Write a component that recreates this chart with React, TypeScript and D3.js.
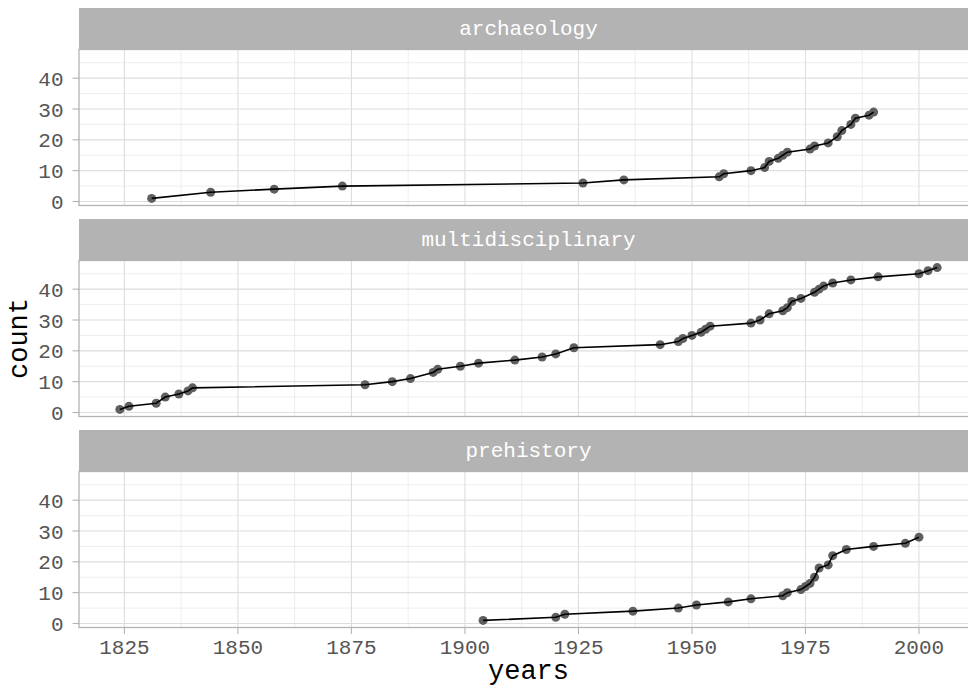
import React from 'react';
import * as d3 from 'd3';

// facet names, in the order they are drawn
const facets = ['archaeology', 'multidisciplinary', 'prehistory'];

// years and cumulative counts
const archYears = [1831, 1844, 1858, 1873, 1926, 1935, 1956, 1957, 1963, 1966, 1967, 1969, 1970, 1971, 1976, 1977, 1980, 1982, 1983, 1985, 1986, 1989, 1990];
const archCounts = [1, 3, 4, 5, 6, 7, 8, 9, 10, 11, 13, 14, 15, 16, 17, 18, 19, 21, 23, 25, 27, 28, 29];

const multiYears = [1824, 1826, 1832, 1834, 1837, 1839, 1840, 1878, 1884, 1888, 1893, 1894, 1899, 1903, 1911, 1917, 1920, 1924, 1943, 1947, 1948, 1950, 1952, 1953, 1954, 1963, 1965, 1967, 1970, 1971, 1972, 1974, 1977, 1978, 1979, 1981, 1985, 1991, 2000, 2002, 2004];
const multiCounts = [1, 2, 3, 5, 6, 7, 8, 9, 10, 11, 13, 14, 15, 16, 17, 18, 19, 21, 22, 23, 24, 25, 26, 27, 28, 29, 30, 32, 33, 34, 36, 37, 39, 40, 41, 42, 43, 44, 45, 46, 47];

const preYears = [1904, 1920, 1922, 1937, 1947, 1951, 1958, 1963, 1970, 1971, 1974, 1975, 1976, 1977, 1978, 1980, 1981, 1984, 1990, 1997, 2000];
const preCounts = [1, 2, 3, 4, 5, 6, 7, 8, 9, 10, 11, 12, 13, 15, 18, 19, 22, 24, 25, 26, 28];

const xTicks = [1825, 1850, 1875, 1900, 1925, 1950, 1975, 2000];
const xMinor = [1837.5, 1862.5, 1887.5, 1912.5, 1937.5, 1962.5, 1987.5, 2012.5];
const yTicks = [0, 10, 20, 30, 40];
const yMinor = [5, 15, 25, 35, 45];

const W = 968;
const H = 689;
const left = 79;
const right = 978;
const top = 8;
const stripH = 41.5;
const panelH = 156;
const step = 211;

const FONT = '"Liberation Mono", "DejaVu Sans Mono", monospace';

type Pt = { year: number; count: number };

const App: React.FC = () => {
  const series: Pt[][] = [
    archYears.map((y, i) => ({ year: y, count: archCounts[i] })),
    multiYears.map((y, i) => ({ year: y, count: multiCounts[i] })),
    preYears.map((y, i) => ({ year: y, count: preCounts[i] })),
  ];

  const x = d3.scaleLinear().domain([1815, 2013]).range([left, right]);

  return (
    <svg width={W} height={H} style={{ position: 'absolute', left: 0, top: 0, background: '#fff' }}>
      {facets.map((name, fi) => {
        const stripTop = top + fi * step;
        const pTop = stripTop + stripH;
        const pBot = pTop + panelH;
        const y = d3.scaleLinear().domain([-1.3, 49.3]).range([pBot, pTop]);
        const line = d3
          .line<Pt>()
          .x((d) => x(d.year))
          .y((d) => y(d.count));
        const data = series[fi];
        const isLast = fi === facets.length - 1;
        return (
          <g key={name}>
            {/* strip */}
            <rect x={left} y={stripTop} width={right - left} height={stripH} fill="#B3B3B3" />
            <text
              x={(left + right) / 2}
              y={stripTop + 26.7}
              textAnchor="middle"
              fill="#ffffff"
              fontFamily={FONT}
              fontSize={21}
            >
              {name}
            </text>

            {/* grid */}
            {yMinor.map((v) => (
              <line key={'ym' + v} x1={left} x2={right} y1={y(v)} y2={y(v)} stroke="#E3E3E3" strokeWidth={0.6} />
            ))}
            {xMinor.map((v) => (
              <line key={'xm' + v} x1={x(v)} x2={x(v)} y1={pTop} y2={pBot} stroke="#E3E3E3" strokeWidth={0.6} />
            ))}
            {yTicks.map((v) => (
              <line key={'yM' + v} x1={left} x2={right} y1={y(v)} y2={y(v)} stroke="#DEDEDE" strokeWidth={1.1} />
            ))}
            {xTicks.map((v) => (
              <line key={'xM' + v} x1={x(v)} x2={x(v)} y1={pTop} y2={pBot} stroke="#DEDEDE" strokeWidth={1.1} />
            ))}

            {/* points then line on top */}
            {data.map((d, i) => (
              <circle key={i} cx={x(d.year)} cy={y(d.count)} r={4.5} fill="#5f5f5f" />
            ))}
            <path d={line(data) || ''} fill="none" stroke="#000" strokeWidth={1.6} />

            {/* panel border */}
            <rect x={left} y={pTop} width={right - left} height={panelH} fill="none" stroke="#B3B3B3" strokeWidth={1.3} />

            {/* y axis */}
            {yTicks.map((v) => (
              <g key={'yt' + v}>
                <line x1={left - 6.5} x2={left} y1={y(v)} y2={y(v)} stroke="#B3B3B3" strokeWidth={1.1} />
                <text
                  x={left - 15.5}
                  y={y(v)}
                  dy="0.36em"
                  textAnchor="end"
                  fill="#555555"
                  fontFamily={FONT}
                  fontSize={21}
                >
                  {v}
                </text>
              </g>
            ))}

            {/* x axis on the bottom panel only */}
            {isLast &&
              xTicks.map((v) => (
                <g key={'xt' + v}>
                  <line x1={x(v)} x2={x(v)} y1={pBot} y2={pBot + 6.5} stroke="#B3B3B3" strokeWidth={1.1} />
                  <text
                    x={x(v)}
                    y={pBot + 26}
                    textAnchor="middle"
                    fill="#555555"
                    fontFamily={FONT}
                    fontSize={21}
                  >
                    {v}
                  </text>
                </g>
              ))}
          </g>
        );
      })}

      {/* axis titles */}
      <text x={(left + right) / 2} y={679} textAnchor="middle" fill="#000" fontFamily={FONT} fontSize={27}>
        years
      </text>
      <text
        transform={`translate(27,${(top + stripH + top + 2 * step + stripH + panelH) / 2}) rotate(-90)`}
        textAnchor="middle"
        fill="#000"
        fontFamily={FONT}
        fontSize={27}
      >
        count
      </text>
    </svg>
  );
};

export default App;
